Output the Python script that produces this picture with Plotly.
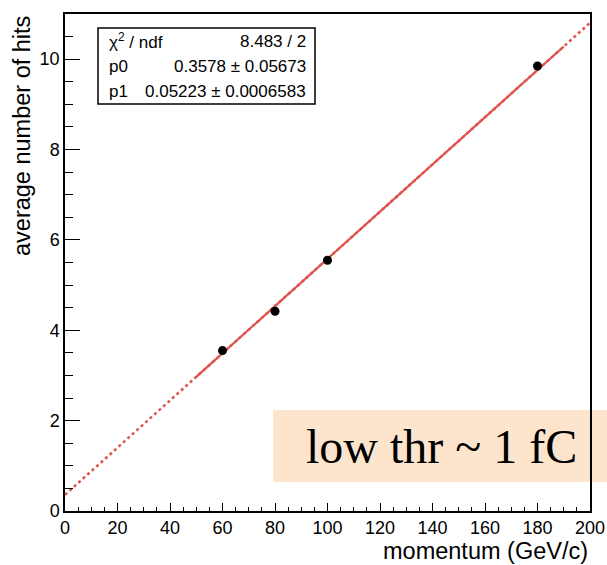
import numpy as np
import plotly.graph_objects as go

# ---- data ----
momentum = [60, 80, 100, 180]
avg_hits = [3.55, 4.42, 5.55, 9.85]
hits_err = [0.06, 0.06, 0.06, 0.08]
mom_err = [1.2, 1.2, 1.2, 1.2]

p0 = 0.3578
p1 = 0.05223
fit_range = [50, 190]
full_range = [0, 200]

stats_labels = ["χ<sup>2</sup> / ndf", "p0", "p1"]
stats_values = ["8.483 / 2", "0.3578 ± 0.05673", "0.05223 ± 0.0006583"]

x_ticks = [0, 20, 40, 60, 80, 100, 120, 140, 160, 180, 200]
y_ticks = [0, 2, 4, 6, 8, 10]

# ---- layout geometry (pixels) ----
W, H = 607, 565
L, R, T, B = 65, 590, 14, 511


def px(x):
    return (x - L) / (R - L)


def py(y):
    return (B - y) / (B - T)


FONT = "Liberation Sans, Arial, sans-serif"
RED = "rgb(221,84,80)"

fig = go.Figure()

# dotted full-range function
xf = np.array(full_range, dtype=float)
fig.add_trace(go.Scatter(x=xf, y=p0 + p1 * xf, mode="lines",
                         line=dict(color=RED, width=2.5, dash="dot"),
                         hoverinfo="skip", showlegend=False))
# solid fit-range line
xs = np.array(fit_range, dtype=float)
fig.add_trace(go.Scatter(x=xs, y=p0 + p1 * xs, mode="lines",
                         line=dict(color=RED, width=2.2),
                         hoverinfo="skip", showlegend=False))
# data points
fig.add_trace(go.Scatter(x=momentum, y=avg_hits, mode="markers",
                         marker=dict(color="black", size=9),
                         error_y=dict(type="data", array=hits_err, color="black",
                                      thickness=1.5, width=0),
                         error_x=dict(type="data", array=mom_err, color="black",
                                      thickness=1.5, width=0),
                         showlegend=False))

fig.update_layout(
    width=W, height=H,
    margin=dict(l=L, r=W - R, t=T, b=H - B, pad=0),
    paper_bgcolor="white", plot_bgcolor="white",
    font=dict(family=FONT, color="black"),
    xaxis=dict(range=[0, 200], tickvals=x_ticks, ticks="inside", ticklen=8,
               tickwidth=1, tickcolor="black", showgrid=False, zeroline=False,
               showline=True, linecolor="black", linewidth=1.5, mirror=True,
               tickfont=dict(size=18, family=FONT), automargin=False,
               minor=dict(ticks="inside", ticklen=4, dtick=5, tickcolor="black",
                          showgrid=False)),
    yaxis=dict(range=[0, 11], tickvals=y_ticks, ticks="inside", ticklen=15,
               tickwidth=1, tickcolor="black", showgrid=False, zeroline=False,
               showline=True, linecolor="black", linewidth=1.5, mirror=True,
               tickfont=dict(size=18, family=FONT), automargin=False,
               minor=dict(ticks="inside", ticklen=8, dtick=0.5, tickcolor="black",
                          showgrid=False)),
)

# axis titles
fig.add_annotation(text="momentum (GeV/c)", xref="paper", yref="paper",
                   x=1.0, y=py(551), xanchor="right", yanchor="middle",
                   showarrow=False, font=dict(size=23.5, family=FONT))
fig.add_annotation(text="average number of hits", xref="paper", yref="paper",
                   x=px(22), y=py(14), xanchor="center", yanchor="top",
                   textangle=-90, showarrow=False, font=dict(size=23.5, family=FONT))

# stats box
fig.add_shape(type="rect", xref="paper", yref="paper",
              x0=px(98), x1=px(315), y0=py(104), y1=py(28),
              line=dict(color="black", width=1.5), fillcolor="white", layer="above")
row_y = [41, 66, 91]
for lab, val, ry in zip(stats_labels, stats_values, row_y):
    fig.add_annotation(text=lab, xref="paper", yref="paper", x=px(107), y=py(ry),
                       xanchor="left", yanchor="middle", showarrow=False,
                       font=dict(size=17, family=FONT))
    fig.add_annotation(text=val, xref="paper", yref="paper", x=px(308), y=py(ry),
                       xanchor="right", yanchor="middle", showarrow=False,
                       font=dict(size=17, family=FONT))

# highlighted label box
fig.add_shape(type="rect", xref="paper", yref="paper",
              x0=px(273), x1=px(640), y0=py(482), y1=py(410),
              line=dict(width=0), fillcolor="rgb(253,228,204)", layer="below")
fig.add_annotation(text="low thr ~ 1 fC", xref="paper", yref="paper",
                   x=px(441), y=py(446), xanchor="center", yanchor="middle",
                   showarrow=False,
                   font=dict(size=48, family="Liberation Serif, Times New Roman, serif"))

fig.write_html("out.html")
